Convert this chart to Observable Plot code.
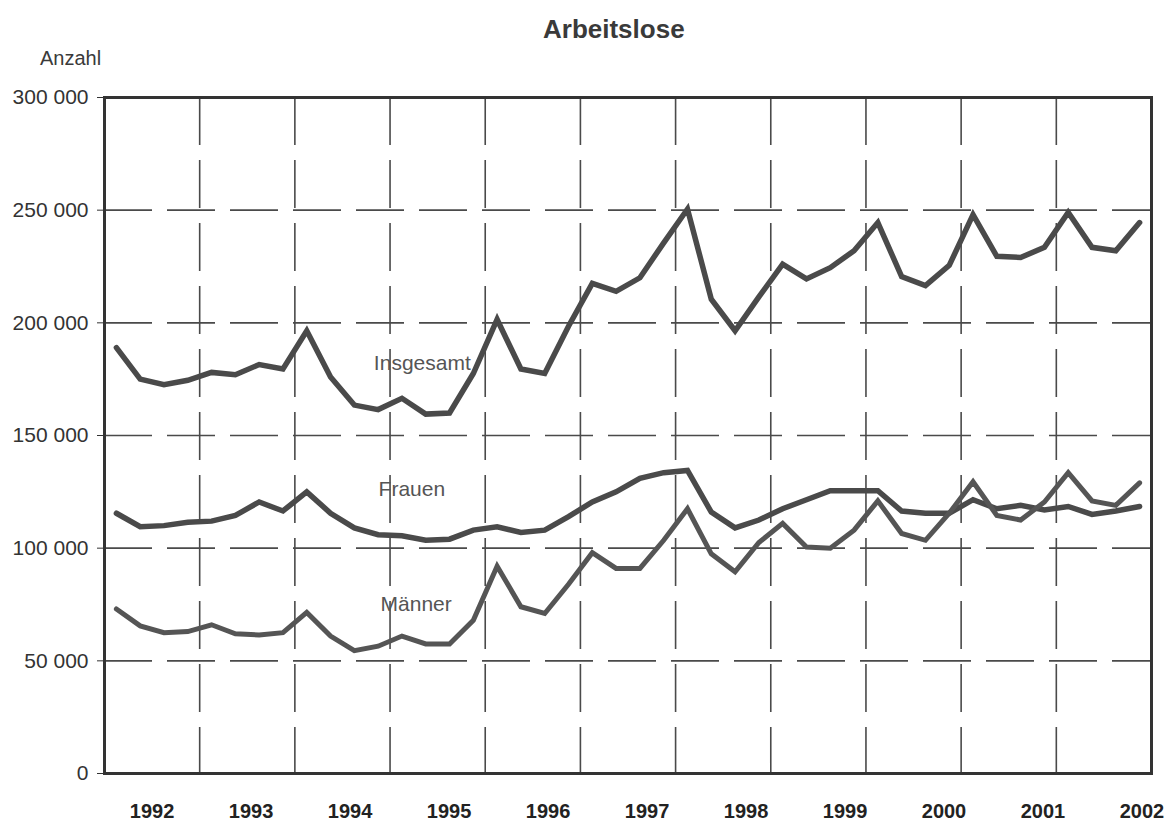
<!DOCTYPE html>
<html>
<head>
<meta charset="utf-8">
<script src="https://cdn.jsdelivr.net/npm/d3@7"></script>
<script src="https://cdn.jsdelivr.net/npm/@observablehq/plot@0.6"></script>
<style>
  body { margin: 0; background: #fff; font-family: "Liberation Sans", Arial, sans-serif; }
  #header { position: relative; width: 1168px; height: 80px; }
  #title { position: absolute; left: 543px; top: 16px; font-size: 26px; font-weight: bold; color: #3a3a3a; line-height: 1; }
  #ylabel { position: absolute; left: 40px; top: 48px; font-size: 20px; color: #3a3a3a; line-height: 1; }
  #chart svg { display: block; }
</style>
</head>
<body>
<div id="header">
  <div id="title">Arbeitslose</div>
  <div id="ylabel">Anzahl</div>
</div>
<div id="chart"></div>
<script>
// Jahre (Spalten), je vier Quartalswerte
const years = [1992, 1993, 1994, 1995, 1996, 1997, 1998, 1999, 2000, 2001, 2002];
const yTicks = [0, 50000, 100000, 150000, 200000, 250000, 300000];

const insgesamt = [
  189000, 175000, 172500, 174500,
  178000, 177000, 181500, 179500,
  196500, 176000, 163500, 161500,
  166500, 159500, 160000, 177500,
  201500, 179500, 177500, 198500,
  217500, 214000, 220000, 235500,
  250500, 210500, 196500, 211500,
  226000, 219500, 224500, 232000,
  244500, 220500, 216500, 225500,
  248000, 229500, 229000, 233500,
  249000, 233500, 232000, 244500
];
const frauen = [
  115500, 109500, 110000, 111500,
  112000, 114500, 120500, 116500,
  125000, 115500, 109000, 106000,
  105500, 103500, 104000, 108000,
  109500, 107000, 108000, 114000,
  120500, 125000, 131000, 133500,
  134500, 116000, 109000, 112500,
  117500, 121500, 125500, 125500,
  125500, 116500, 115500, 115500,
  121500, 117500, 119000, 117000,
  118500, 115000, 116500, 118500
];
const maenner = [
  73000, 65500, 62500, 63000,
  66000, 62000, 61500, 62500,
  71500, 61000, 54500, 56500,
  61000, 57500, 57500, 68000,
  92000, 74000, 71000, 84000,
  98000, 91000, 91000, 103500,
  117500, 97500, 89500, 102500,
  111000, 100500, 100000, 108000,
  121000, 106500, 103500, 115500,
  129500, 114500, 112500, 120500,
  133500, 121000, 119000, 129000
];

// Quartalszeitpunkt: Jahr + Mitte des Quartals
const qx = i => years[Math.floor(i / 4)] + ((i % 4) + 0.5) / 4;
const table = (arr, name) => arr.map((v, i) => ({ t: qx(i), v, name }));
const dIns = table(insgesamt, "Insgesamt");
const dFr = table(frauen, "Frauen");
const dMa = table(maenner, "Männer");

const yGrid = yTicks.filter(d => d > 0 && d < 300000);
const xGrid = years.slice(1);

// the printed year labels run slightly wider than the year columns
const labelStretch = 1.04;
const labelPos = years.map(y => 1992.5 + (y - 1992) * labelStretch);
const labelText = t => String(1992 + Math.round((t - 1992.5) / labelStretch));

const fmt = d => d3.format(",")(d).replace(/,/g, " ");
const lineColor = "#4a4a4a";

const chart = Plot.plot({
  width: 1168,
  height: 742,
  marginTop: 17,
  marginBottom: 49,
  marginLeft: 104,
  marginRight: 17,
  style: { fontFamily: '"Liberation Sans", Arial, sans-serif', background: "#fff", color: "#333" },
  x: { domain: [1992, 2003], axis: null },
  y: { domain: [0, 300000], axis: null },
  marks: [
    Plot.ruleY(yGrid, { stroke: "#4a4a4a", strokeWidth: 1.6, strokeDasharray: "48,15" }),
    Plot.ruleX(xGrid, { stroke: "#4a4a4a", strokeWidth: 1.6, strokeDasharray: "48,15" }),
    Plot.axisY({ ticks: yTicks, tickFormat: fmt, label: null, tickSize: 7, tickPadding: 9, fontSize: 21, stroke: "#333", fill: "#333" }),
    Plot.axisX({ ticks: labelPos, tickFormat: labelText, label: null, tickSize: 0, tickPadding: 30, fontSize: 20, fontWeight: "bold", fill: "#222" }),
    Plot.frame({ stroke: "#333", strokeWidth: 3 }),
    Plot.line(dIns, { x: "t", y: "v", stroke: lineColor, strokeWidth: 5.5, strokeLinejoin: "miter", strokeMiterlimit: 6 }),
    Plot.line(dFr, { x: "t", y: "v", stroke: lineColor, strokeWidth: 5.5, strokeLinejoin: "miter", strokeMiterlimit: 6 }),
    Plot.line(dMa, { x: "t", y: "v", stroke: "#555", strokeWidth: 5, strokeLinejoin: "miter", strokeMiterlimit: 6 }),
    Plot.text([{ t: 1994.83, v: 182000, s: "Insgesamt" }, { t: 1994.88, v: 126000, s: "Frauen" }, { t: 1994.9, v: 75000, s: "Männer" }],
      { x: "t", y: "v", text: "s", textAnchor: "start", fontSize: 21, fill: "#555" })
  ]
});
document.getElementById("chart").append(chart);
</script>
</body>
</html>
